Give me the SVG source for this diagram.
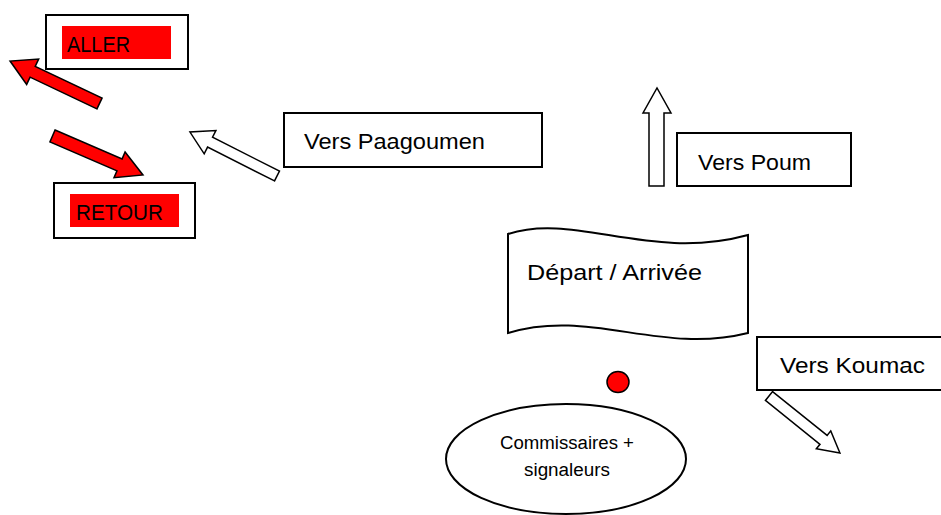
<svg xmlns="http://www.w3.org/2000/svg" width="941" height="515" viewBox="0 0 941 515">
<style>
.box{fill:#fff;stroke:#000;stroke-width:2}
.lbl{font-family:"Liberation Sans",Arial,sans-serif;font-size:22.5px;fill:#000}
.sm{font-family:"Liberation Sans",Arial,sans-serif;font-size:18px;fill:#000;text-anchor:middle}
.hollow{fill:#fff;stroke:#000;stroke-width:1.5;stroke-linejoin:miter}
.red{fill:#ff0000;stroke:#000;stroke-width:1.5;stroke-linejoin:miter}
</style>
<rect width="941" height="515" fill="#fff"/>
<g id="connectors">
<polygon class="red" transform="translate(99.5,103.5) rotate(205.4)" points="0,-6 74,-6 74,-14 99,0 74,14 74,6 0,6"/>
<polygon class="red" transform="translate(52.5,136) rotate(23.3)" points="0,-6.5 73,-6.5 73,-14 98.5,0 73,14 73,6.5 0,6.5"/>
<polygon class="hollow" transform="translate(277,176) rotate(206.8)" points="0,-5.5 75,-5.5 75,-13 97.5,0 75,13 75,5.5 0,5.5"/>
<polygon class="hollow" points="649,186 649,113 643,113 657,88 671,113 664,113 664,186"/>
<polygon class="hollow" transform="translate(769,396) rotate(38.8)" points="0,-5.7 70,-5.7 70,-11.5 91,0 70,11.5 70,5.7 0,5.7"/>
</g>
<g id="aller">
<rect class="box" x="46" y="15" width="142" height="54"/>
<rect x="62" y="26" width="109" height="33" fill="#ff0000"/>
<text class="lbl" x="67" y="52" textLength="63" lengthAdjust="spacingAndGlyphs">ALLER</text>
</g>
<g id="retour">
<rect class="box" x="54" y="183" width="141" height="55"/>
<rect x="70" y="194" width="109" height="33" fill="#ff0000"/>
<text class="lbl" x="76" y="220" textLength="87" lengthAdjust="spacingAndGlyphs">RETOUR</text>
</g>
<g id="paagoumen">
<rect class="box" x="284" y="113" width="258" height="54"/>
<text class="lbl" x="304" y="149" textLength="181" lengthAdjust="spacingAndGlyphs">Vers Paagoumen</text>
</g>
<g id="poum">
<rect class="box" x="677" y="133" width="174" height="53"/>
<text class="lbl" x="698" y="170" textLength="113" lengthAdjust="spacingAndGlyphs">Vers Poum</text>
</g>
<g id="depart">
<path class="box" d="M508,234 C575,212 650,262 748,235 L748,333 C660,355 590,308 508,333 Z"/>
<text class="lbl" x="527" y="280" textLength="175" lengthAdjust="spacingAndGlyphs">Départ / Arrivée</text>
</g>
<g id="point">
<ellipse cx="618" cy="382" rx="11" ry="10.5" fill="#ff0000" stroke="#000" stroke-width="1.5"/>
</g>
<g id="commissaires">
<ellipse class="box" cx="566" cy="459" rx="120" ry="55"/>
<text class="sm" x="567" y="449" textLength="134" lengthAdjust="spacingAndGlyphs">Commissaires +</text>
<text class="sm" x="567" y="476" textLength="86" lengthAdjust="spacingAndGlyphs">signaleurs</text>
</g>
<g id="koumac">
<rect class="box" x="757" y="337" width="200" height="53"/>
<text class="lbl" x="780" y="373" textLength="145" lengthAdjust="spacingAndGlyphs">Vers Koumac</text>
</g>
</svg>
